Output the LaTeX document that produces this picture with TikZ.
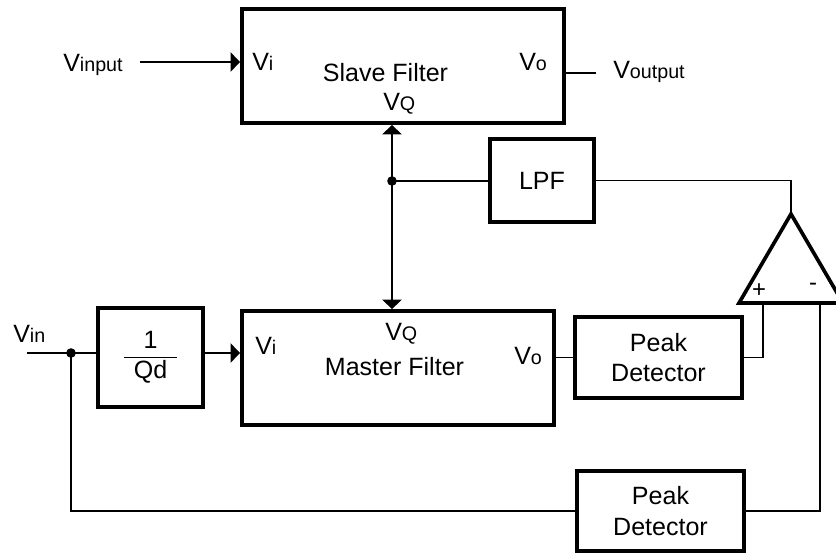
\documentclass[tikz,border=0pt]{standalone}
\usepackage{fontspec}
\setmainfont{Liberation Sans}
\usepackage{tikz}
\usetikzlibrary{arrows.meta,calc}
\newcommand{\subtxt}[1]{{\fontsize{14}{16}\selectfont #1}}

\begin{document}
\begin{tikzpicture}[
    x=0.025cm, y=-0.025cm,
    block/.style={draw, line width=2.6pt, inner sep=0pt, align=center},
    lbl/.style={anchor=base west, inner sep=0pt},
    wire/.style={line width=1.3pt},
    arr/.style={-{Triangle[length=0.24cm, width=0.48cm]}, line width=1.3pt},
    dblarr/.style={{Triangle[length=0.24cm, width=0.48cm]}-{Triangle[length=0.24cm, width=0.48cm]}, line width=1.3pt},
    font=\fontsize{17.8}{21.4}\selectfont,
]
    \useasboundingbox (0,0) rectangle (836,554);
    \clip (0,0) rectangle (836,554);

    % Blocks
    \node[block, minimum width=8.05cm, minimum height=2.85cm] (slave) at (403,66) {};
    \node[block, minimum width=7.8cm, minimum height=2.85cm] (master) at (398,368) {};
    \node[block, minimum width=2.625cm, minimum height=2.475cm] (qd) at (150.5,357.5) {1\\Qd};
    \node[block, minimum width=2.6cm, minimum height=2.075cm] (lpf) at (542,180.5) {LPF};
    \node[block, minimum width=4.175cm, minimum height=2.025cm] (peak1) at (658.5,357.5) {Peak\\Detector};
    \node[block, minimum width=4.175cm, minimum height=2cm] (peak2) at (660.5,511) {Peak\\Detector};

    % Amplifier
    \coordinate (apex) at (791,214);
    \coordinate (plus) at (763,303);
    \coordinate (minus) at (820,303);
    \draw[line width=2.6pt, line join=miter] (apex) -- (739,303) -- (843,303) -- cycle;
    \node (plussign) at (759,291) {\fontsize{17}{18}\selectfont +};
    \node (minussign) at (813,287) {\fontsize{17}{18}\selectfont -};

    % Texts
    \node[lbl] (slavevi) at (252,70) {V\subtxt{i}};
    \node[anchor=base, inner sep=0pt] (slavename) at (385.5,81) {Slave Filter};
    \node[lbl] (slavevq) at (383,110) {V\subtxt{Q}};
    \node[lbl] (slavevo) at (519,70) {V\subtxt{o}};
    \node[lbl] (mastervi) at (255,354) {V\subtxt{i}};
    \node[lbl] (mastervq) at (385,340) {V\subtxt{Q}};
    \node[anchor=base, inner sep=0pt] (mastername) at (394.5,375) {Master Filter};
    \node[lbl] (mastervo) at (514,364) {V\subtxt{o}};
    \node[lbl] (vinput) at (63,71) {V\subtxt{input}};
    \node[lbl] (voutput) at (613,78) {V\subtxt{output}};
    \node[lbl] (vin) at (13,342) {V\subtxt{in}};

    % Connectors
    \draw[wire] ([xshift=-0.65cm]qd.center) -- ([xshift=0.65cm]qd.center);
    \coordinate (instart) at (140,62);
    \draw[arr] (instart) -- (instart -| slave.west);
    \coordinate (outend) at (596,73);
    \draw[wire] (outend -| slave.east) -- (outend);
    \coordinate (vqdot) at (392,181);
    \draw[dblarr] (slave.south -| vqdot) -- (master.north -| vqdot);
    \fill (vqdot) circle (0.12cm);
    \draw[wire] (vqdot) -- (vqdot -| lpf.west);
    \draw[wire] (lpf.east) -| (apex);
    \draw[wire] (peak1.west) -- (peak1.west -| master.east);
    \draw[wire] (peak1.east) -| (plus);
    \draw[wire] (peak2.east) -| (minus);
    \coordinate (vinstart) at (27,353);
    \coordinate (split) at (71,353);
    \draw[wire] (vinstart) -- (vinstart -| qd.west);
    \draw[arr] (qd.east |- split) -- (split -| master.west);
    \fill (split) circle (0.12cm);
    \draw[wire] (split) |- (peak2.west);
\end{tikzpicture}
\end{document}
